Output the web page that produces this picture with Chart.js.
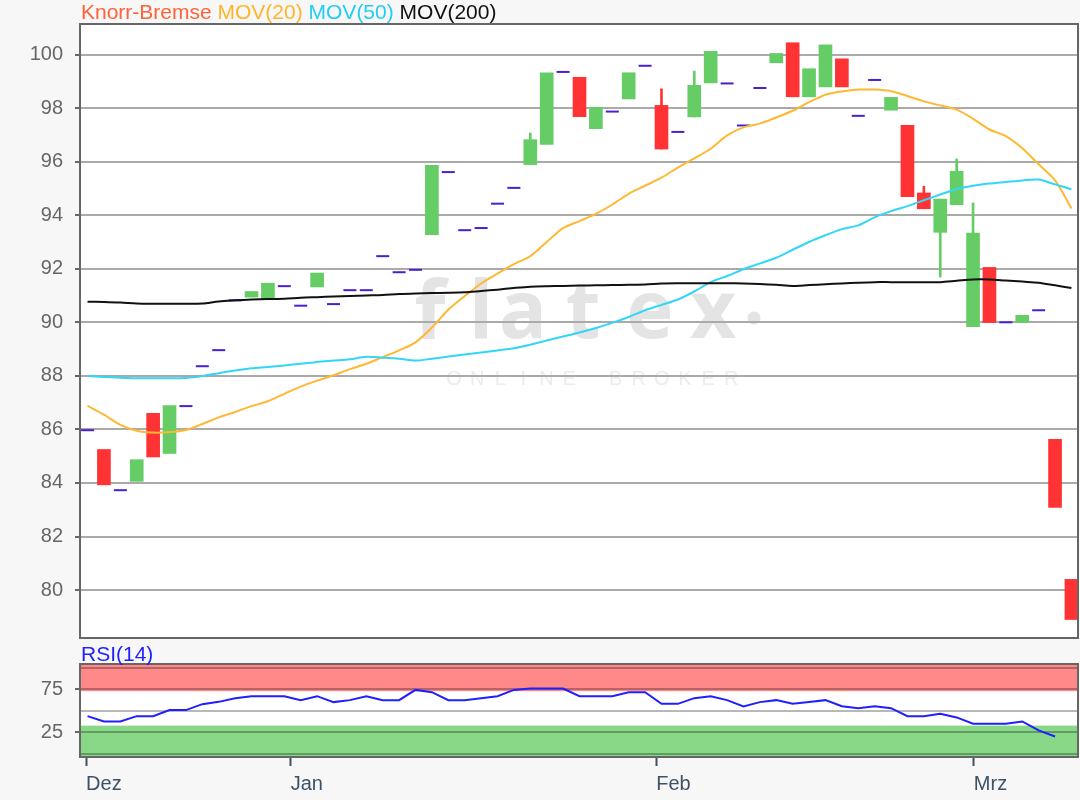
<!DOCTYPE html>
<html>
<head>
<meta charset="utf-8">
<script src="https://cdn.jsdelivr.net/npm/chart.js@4.4.0/dist/chart.umd.min.js"></script>
<style>
  html, body { margin: 0; padding: 0; background: #f7f7f7; }
  body { width: 1080px; height: 800px; position: relative; overflow: hidden; }
  .box { position: absolute; left: 0; width: 1080px; }
  #priceBox { top: 0; height: 640px; }
  #rsiBox { top: 640px; height: 160px; }
</style>
</head>
<body>
<div class="box" id="priceBox"><canvas id="price"></canvas></div>
<div class="box" id="rsiBox"><canvas id="rsi"></canvas></div>
<script>
// daily candles, index 0 = first day shown (mid December)
const opens  = [85.97, 85.25, 83.73, 84.06, 86.60, 85.10, 86.87, 88.36, 88.96, 90.82,
                90.94, 90.87, 91.35, 90.62, 91.32, 90.68, 91.20, 91.20, 92.47, 91.87,
                91.96, 93.27, 95.61, 93.44, 93.52, 94.43, 95.02, 95.89, 96.64, 99.35,
                99.15, 97.23, 97.87, 98.34, 99.58, 98.10, 97.11, 97.67, 98.94, 98.92,
                97.35, 98.75, 99.69, 100.44, 98.42, 98.79, 99.84, 97.71, 99.05, 97.92,
                97.36, 94.83, 93.36, 94.39, 89.84, 92.05, 90.00, 90.00, 90.45, 85.63, 80.40];
const highs  = [85.97, 85.25, 83.73, 84.87, 86.60, 86.89, 86.87, 88.36, 88.96, 90.82,
                91.15, 91.46, 91.35, 90.62, 91.84, 90.68, 91.20, 91.20, 92.47, 91.87,
                91.96, 95.86, 95.61, 93.44, 93.52, 94.43, 95.02, 97.07, 99.32, 99.35,
                99.15, 98.03, 97.87, 99.32, 99.58, 98.72, 97.11, 99.38, 100.12, 98.92,
                97.35, 98.75, 100.04, 100.44, 99.47, 100.36, 99.84, 97.71, 99.05, 98.40,
                97.36, 95.08, 94.60, 96.10, 94.46, 92.05, 90.00, 90.26, 90.45, 85.63, 80.40];
const lows   = [85.97, 83.93, 83.73, 84.06, 84.97, 85.10, 86.87, 88.36, 88.96, 90.82,
                90.94, 90.87, 91.35, 90.62, 91.32, 90.68, 91.20, 91.20, 92.47, 91.87,
                91.96, 93.27, 95.61, 93.44, 93.52, 94.43, 95.02, 95.89, 96.64, 99.35,
                97.68, 97.23, 97.87, 98.34, 99.58, 96.47, 97.11, 97.67, 98.94, 98.92,
                97.35, 98.75, 99.69, 98.42, 98.42, 98.79, 98.79, 97.71, 99.05, 97.92,
                94.69, 94.24, 91.69, 94.39, 89.84, 89.99, 90.00, 90.00, 90.45, 83.09, 78.90];
const closes = [85.97, 83.93, 83.73, 84.87, 84.97, 86.89, 86.87, 88.36, 88.96, 90.82,
                91.15, 91.46, 91.35, 90.62, 91.84, 90.68, 91.20, 91.20, 92.47, 91.87,
                91.96, 95.86, 95.61, 93.44, 93.52, 94.43, 95.02, 96.82, 99.32, 99.35,
                97.68, 98.03, 97.87, 99.32, 99.58, 96.47, 97.11, 98.85, 100.12, 98.92,
                97.35, 98.75, 100.04, 98.42, 99.47, 100.36, 98.79, 97.71, 99.05, 98.40,
                94.69, 94.24, 94.60, 95.64, 93.33, 89.99, 90.00, 90.26, 90.45, 83.09, 78.90];

const ma20  = [86.88, 86.55, 86.17, 85.95, 85.88, 85.90, 85.98, 86.20, 86.45, 86.65,
               86.87, 87.05, 87.33, 87.60, 87.82, 88.02, 88.25, 88.45, 88.70, 88.95,
               89.25, 89.80, 90.47, 90.98, 91.45, 91.82, 92.17, 92.47, 93.00, 93.52,
               93.78, 94.05, 94.40, 94.80, 95.10, 95.40, 95.78, 96.12, 96.48, 96.98,
               97.28, 97.42, 97.65, 97.90, 98.22, 98.50, 98.62, 98.69, 98.69, 98.63,
               98.45, 98.25, 98.10, 97.94, 97.60, 97.20, 96.95, 96.50, 95.90, 95.30, 94.25];
const ma50  = [87.99, 87.96, 87.93, 87.91, 87.91, 87.91, 87.92, 87.99, 88.10, 88.20,
               88.28, 88.33, 88.39, 88.45, 88.52, 88.57, 88.62, 88.71, 88.68, 88.64,
               88.57, 88.64, 88.72, 88.80, 88.87, 88.95, 89.03, 89.16, 89.32, 89.47,
               89.62, 89.79, 89.98, 90.20, 90.45, 90.65, 90.85, 91.15, 91.50, 91.73,
               91.98, 92.20, 92.41, 92.71, 93.00, 93.25, 93.48, 93.62, 93.92, 94.15,
               94.34, 94.56, 94.77, 94.98, 95.10, 95.18, 95.24, 95.30, 95.33, 95.15, 94.97];
const ma200 = [90.77, 90.76, 90.74, 90.70, 90.69, 90.69, 90.69, 90.70, 90.78, 90.82,
               90.85, 90.87, 90.88, 90.92, 90.94, 90.96, 90.98, 91.00, 91.02, 91.06,
               91.08, 91.09, 91.10, 91.12, 91.17, 91.22, 91.28, 91.33, 91.35, 91.36,
               91.37, 91.38, 91.39, 91.40, 91.41, 91.45, 91.46, 91.46, 91.46, 91.46,
               91.45, 91.43, 91.40, 91.36, 91.39, 91.42, 91.45, 91.48, 91.50, 91.50,
               91.50, 91.50, 91.50, 91.55, 91.60, 91.60, 91.56, 91.52, 91.48, 91.38, 91.28];

const rsi14 = [44.0, 37.8, 37.8, 44.0, 44.0, 51.0, 51.0, 57.9, 60.6, 64.9,
               67.2, 67.2, 67.2, 62.6, 67.2, 60.3, 62.6, 67.2, 62.6, 62.6,
               74.5, 71.8, 62.6, 62.6, 64.9, 67.2, 74.5, 76.0, 76.0, 76.0,
               67.2, 67.2, 67.2, 71.8, 71.8, 58.3, 58.3, 64.9, 67.2, 62.6,
               55.2, 60.3, 62.6, 58.3, 60.3, 62.6, 55.6, 53.3, 55.6, 53.3,
               44.0, 44.0, 46.7, 42.5, 35.1, 35.1, 35.1, 37.8, 27.4, 20.4];

const priceTicks = [80, 82, 84, 86, 88, 90, 92, 94, 96, 98, 100];
const rsiTicks = [0, 25, 50, 75, 100];
const rsiLabelled = [25, 75];
const rsiHigh = 73, rsiLow = 33;
const monthPos = [-0.09, 12.39, 34.68, 54.05];
const monthLabels = ['Dez', 'Jan', 'Feb', 'Mrz'];

const X_MIN = -0.46, X_MAX = 60.4;
const UP = '#66cc66', DOWN = '#ff3333', FLAT = '#4a1fd0';

Chart.defaults.font.family = '"Liberation Sans", Arial, sans-serif';
Chart.defaults.font.size = 20;
Chart.defaults.animation = false;

const bodies = [], bodyColors = [], wicks = [], wickColors = [], flats = [];
opens.forEach((o, i) => {
  const c = closes[i];
  const col = c >= o ? UP : DOWN;
  if (o === c) {
    flats.push({ x: i, y: c });
  } else {
    bodies.push({ x: i, y: [o, c] });
    bodyColors.push(col);
  }
  if (highs[i] > Math.max(o, c) || lows[i] < Math.min(o, c)) {
    wicks.push({ x: i, y: [lows[i], highs[i]] });
    wickColors.push(col);
  }
});

const asPoints = arr => arr.map((v, i) => ({ x: i, y: v }));

// y axis: fixed 80px wide, no extra label padding above/below the plot
const fixY = s => { s.width = 80; s.paddingTop = 0; s.paddingBottom = 0; };

const frame = {
  id: 'frame',
  beforeDraw(chart, args, opts) {
    const { ctx, chartArea: a } = chart;
    ctx.save();
    ctx.fillStyle = '#ffffff';
    ctx.fillRect(a.left, a.top, a.width, a.height);
    if (opts.bands) {
      const y = chart.scales.y;
      ctx.fillStyle = '#ff8888';
      ctx.fillRect(a.left, a.top, a.width, y.getPixelForValue(rsiHigh) - a.top);
      ctx.fillStyle = '#88d888';
      const gy = y.getPixelForValue(rsiLow);
      ctx.fillRect(a.left, gy, a.width, a.bottom - gy);
    }
    if (opts.watermark) {
      ctx.beginPath();
      ctx.rect(a.left, a.top, a.width, a.height);
      ctx.clip();
      ctx.fillStyle = '#e4e4e4';
      ctx.textAlign = 'center';
      ctx.textBaseline = 'alphabetic';
      ctx.font = 'bold 80px "Open Sans", sans-serif';
      const letters = ['f', 'l', 'a', 't', 'e', 'x'];
      const lx = [430, 481, 523, 583, 650, 713];
      letters.forEach((ch, k) => ctx.fillText(ch, lx[k], 338));
      ctx.beginPath();
      ctx.arc(754, 318, 6.5, 0, Math.PI * 2);
      ctx.fill();
      ctx.fillStyle = '#ececec';
      ctx.font = '20px "Liberation Sans", Arial, sans-serif';
      const word = 'ONLINE BROKER';
      for (let k = 0; k < word.length; k++) ctx.fillText(word[k], 454 + k * 23.1, 385);
    }
    ctx.restore();
  },
  afterDraw(chart, args, opts) {
    const { ctx, chartArea: a } = chart;
    ctx.save();
    ctx.strokeStyle = '#666666';
    ctx.lineWidth = 2;
    ctx.strokeRect(a.left, a.top, a.width, a.height);
    ctx.textAlign = 'left';
    ctx.textBaseline = 'middle';
    ctx.font = '21px "Liberation Sans", Arial, sans-serif';
    let x = 81;
    (opts.title || []).forEach(([txt, col]) => {
      ctx.fillStyle = col;
      ctx.fillText(txt, x, opts.titleY);
      x += ctx.measureText(txt + ' ').width;
    });
    ctx.restore();
  }
};

new Chart(document.getElementById('price'), {
  type: 'bar',
  data: {
    datasets: [
      { type: 'line', data: asPoints(ma200), borderColor: '#111111', borderWidth: 2, pointRadius: 0, tension: 0.3, order: 1 },
      { type: 'line', data: asPoints(ma50), borderColor: '#33d6f7', borderWidth: 2, pointRadius: 0, tension: 0.3, order: 1 },
      { type: 'line', data: asPoints(ma20), borderColor: '#ffb833', borderWidth: 2, pointRadius: 0, tension: 0.3, order: 1 },
      { type: 'line', data: flats, showLine: false, pointStyle: 'line', pointRadius: 6.5,
        pointBorderWidth: 2, pointBorderColor: FLAT, borderColor: FLAT, order: 2 },
      { data: bodies, backgroundColor: bodyColors, barThickness: 13, grouped: false, order: 3 },
      { data: wicks, backgroundColor: wickColors, barThickness: 2, grouped: false, order: 4 }
    ]
  },
  options: {
    responsive: true,
    maintainAspectRatio: false,
    layout: { autoPadding: false, padding: { top: 24, right: 2, bottom: 2, left: 0 } },
    plugins: {
      legend: { display: false },
      tooltip: { enabled: false },
      frame: {
        watermark: true,
        titleY: 13,
        title: [['Knorr-Bremse', '#ff6238'], ['MOV(20)', '#ffb52a'], ['MOV(50)', '#22cdf2'], ['MOV(200)', '#111111']]
      }
    },
    scales: {
      x: { type: 'linear', min: X_MIN, max: X_MAX, offset: false, display: false },
      y: {
        min: 78.21, max: 101.14,
        afterBuildTicks: s => { s.ticks = priceTicks.map(v => ({ value: v })); },
        afterFit: fixY,
        ticks: { color: '#666666', padding: 12, autoSkip: false },
        grid: { color: '#aaaaaa', lineWidth: 2, tickLength: 5, tickColor: '#666666' },
        border: { display: false }
      }
    }
  },
  plugins: [frame]
});

new Chart(document.getElementById('rsi'), {
  type: 'line',
  data: {
    datasets: [
      { data: asPoints(rsi14), borderColor: '#1f1fff', borderWidth: 2, pointRadius: 0, tension: 0 }
    ]
  },
  options: {
    responsive: true,
    maintainAspectRatio: false,
    layout: { autoPadding: false, padding: { top: 24, right: 2, bottom: 0, left: 0 } },
    plugins: {
      legend: { display: false },
      tooltip: { enabled: false },
      frame: { bands: true, titleY: 15, title: [['RSI(14)', '#1f1fff']] }
    },
    scales: {
      x: {
        type: 'linear', min: X_MIN, max: X_MAX, offset: false,
        afterBuildTicks: s => { s.ticks = monthPos.map(v => ({ value: v })); },
        afterFit: s => { s.height = 43; s.paddingLeft = 0; s.paddingRight = 0; },
        ticks: {
          callback: (v, i) => monthLabels[i],
          align: 'start', autoSkip: false, maxRotation: 0, color: '#3d5266', padding: 6
        },
        grid: { drawOnChartArea: false, tickLength: 9, tickColor: '#3d5266', tickWidth: 2 },
        border: { display: false }
      },
      y: {
        min: -3.5, max: 104.6,
        afterBuildTicks: s => { s.ticks = rsiTicks.map(v => ({ value: v })); },
        afterFit: fixY,
        ticks: { color: '#666666', padding: 12, autoSkip: false, callback: v => rsiLabelled.includes(v) ? v : '' },
        grid: {
          color: 'rgba(0,0,0,0.28)', lineWidth: 2, tickLength: 5,
          tickColor: c => rsiLabelled.includes(c.tick && c.tick.value) ? '#666666' : 'rgba(0,0,0,0)'
        },
        border: { display: false }
      }
    }
  },
  plugins: [frame]
});
</script>
</body>
</html>
